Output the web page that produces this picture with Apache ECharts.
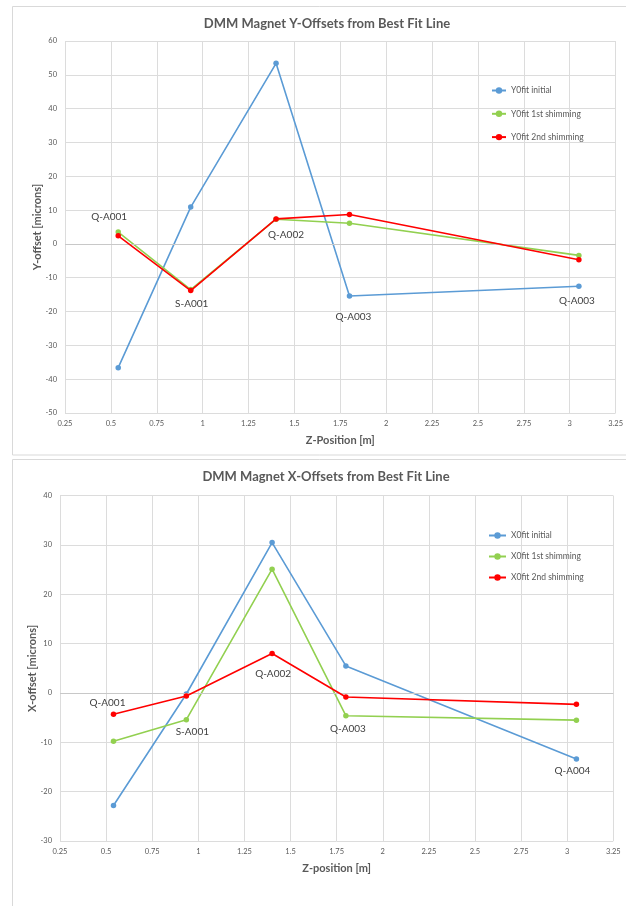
<!DOCTYPE html>
<html>
<head>
<meta charset="utf-8">
<script src="https://cdn.jsdelivr.net/npm/echarts@6/dist/echarts.min.js"></script>
<style>
html,body{margin:0;padding:0;background:#fff;}
#chart{width:626px;height:906px;}
</style>
</head>
<body>
<div id="chart"></div>
<script>
// ---- data ----
const zPositions = [0.54, 0.935, 1.40, 1.80, 3.05];

const yTitle = 'DMM Magnet Y-Offsets from Best Fit Line';
const ySeriesNames = ['Y0fit initial', 'Y0fit 1st shimming', 'Y0fit 2nd shimming'];
const yInitial = [-36.6, 10.9, 53.4, -15.4, -12.5];
const y1stShim = [3.5, -13.5, 7.3, 6.1, -3.4];
const y2ndShim = [2.4, -13.8, 7.4, 8.7, -4.7];
const yMagnetLabels = ['Q-A001', 'S-A001', 'Q-A002', 'Q-A003', 'Q-A003'];

const xTitle = 'DMM Magnet X-Offsets from Best Fit Line';
const xSeriesNames = ['X0fit initial', 'X0fit 1st shimming', 'X0fit 2nd shimming'];
const xInitial = [-22.8, -0.2, 30.5, 5.5, -13.4];
const x1stShim = [-9.8, -5.4, 25.1, -4.6, -5.5];
const x2ndShim = [-4.3, -0.6, 8.0, -0.8, -2.3];
const xMagnetLabels = ['Q-A001', 'S-A001', 'Q-A002', 'Q-A003', 'Q-A004'];

const zTicks = { min: 0.25, max: 3.25, interval: 0.25 };
const yOffsetTicks = { min: -50, max: 60, interval: 10 };
const xOffsetTicks = { min: -30, max: 40, interval: 10 };

// ---- layout / style ----
const COLORS = ['#5B9BD5', '#92D050', '#FF0000'];
const FONT = 'Lato, "Open Sans", sans-serif';

// which series carries each point label, and where (layout only)
const yLabelPlacement = [
  { series: 1, pos: 'top', offset: [-9, -4] },
  { series: 2, pos: 'bottom', offset: [1, 1] },
  { series: 2, pos: 'bottom', offset: [10, 4] },
  { series: 0, pos: 'bottom', offset: [4, 9] },
  { series: 0, pos: 'bottom', offset: [-2, 3] }
];
const xLabelPlacement = [
  { series: 2, pos: 'top', offset: [-6, 0] },
  { series: 1, pos: 'bottom', offset: [6, 0] },
  { series: 2, pos: 'bottom', offset: [1, 8] },
  { series: 1, pos: 'bottom', offset: [2, 1] },
  { series: 0, pos: 'bottom', offset: [-4, 0] }
];

function buildData(values, seriesIdx, names, placement) {
  return values.map((v, i) => {
    const p = placement[i];
    const item = { value: [zPositions[i], v] };
    if (p.series === seriesIdx) {
      item.label = {
        show: true, formatter: names[i], position: p.pos, offset: p.offset,
        color: '#404040', fontSize: 10, fontFamily: FONT, distance: 4
      };
    }
    return item;
  });
}

function makeSeries(names, valueSets, labels, placement, gridIdx) {
  return valueSets.map((vals, s) => ({
    name: names[s],
    type: 'line',
    xAxisIndex: gridIdx,
    yAxisIndex: gridIdx,
    data: buildData(vals, s, labels, placement),
    symbol: 'circle',
    symbolSize: 5.5,
    color: COLORS[s],
    lineStyle: { width: 1.6, color: COLORS[s] },
    itemStyle: { color: COLORS[s] },
    z: 3 + s,
    animation: false,
    markLine: s === 0 ? {
      silent: true, symbol: 'none', animation: false,
      label: { show: false },
      lineStyle: { color: '#c8c8c8', type: 'solid', width: 1 },
      data: [{ yAxis: 0 }]
    } : undefined
  }));
}

const axisLabelStyle = { color: '#595959', fontSize: 7.5, fontFamily: FONT };
const splitLineStyle = { show: true, lineStyle: { color: '#dcdcdc', width: 1 } };
const nameStyle = { color: '#595959', fontSize: 11, fontWeight: 'bold', fontFamily: FONT };

function xAxisCfg(gridIdx, name, gap) {
  return {
    type: 'value', gridIndex: gridIdx,
    min: zTicks.min, max: zTicks.max, interval: zTicks.interval,
    name: name, nameLocation: 'middle', nameGap: gap, nameTextStyle: nameStyle,
    nameMoveOverlap: false,
    axisLine: { show: false }, axisTick: { show: false },
    axisLabel: Object.assign({ margin: 7 }, axisLabelStyle),
    splitLine: splitLineStyle
  };
}
function yAxisCfg(gridIdx, ticks, name, gap) {
  return {
    type: 'value', gridIndex: gridIdx,
    min: ticks.min, max: ticks.max, interval: ticks.interval,
    name: name, nameLocation: 'middle', nameGap: gap, nameTextStyle: nameStyle,
    nameMoveOverlap: false,
    axisLine: { show: false }, axisTick: { show: false },
    axisLabel: Object.assign({ margin: 8 }, axisLabelStyle),
    splitLine: splitLineStyle
  };
}

const legendText = { color: '#595959', fontSize: 8.5, fontFamily: FONT, lineHeight: 10 };

const option = {
  backgroundColor: '#ffffff',
  animation: false,
  graphic: [
    { type: 'rect', shape: { x: 12.5, y: 6.5, width: 640, height: 448.5 },
      style: { fill: 'none', stroke: '#d9d9d9', lineWidth: 1 }, silent: true },
    { type: 'rect', shape: { x: 12.5, y: 459.5, width: 640, height: 470 },
      style: { fill: 'none', stroke: '#d9d9d9', lineWidth: 1 }, silent: true }
  ],
  title: [
    { text: yTitle, left: 322, top: 12, textAlign: 'center',
      textStyle: { color: '#595959', fontSize: 13, fontWeight: 'bold', fontFamily: FONT } },
    { text: xTitle, left: 321, top: 465, textAlign: 'center',
      textStyle: { color: '#595959', fontSize: 13, fontWeight: 'bold', fontFamily: FONT } }
  ],
  legend: [
    { data: ySeriesNames, orient: 'vertical', left: 486, top: 80.5,
      itemWidth: 14, itemHeight: 8, itemGap: 13.3, textStyle: legendText,
      selectedMode: false },
    { data: xSeriesNames, orient: 'vertical', left: 483, top: 525.5,
      itemWidth: 17, itemHeight: 8, itemGap: 11, textStyle: legendText,
      selectedMode: false }
  ],
  grid: [
    { left: 65, right: 9, top: 41, height: 372 },
    { left: 60, right: 12.7, top: 495.7, height: 345.3 }
  ],
  xAxis: [
    xAxisCfg(0, 'Z-Position [m]', 22),
    xAxisCfg(1, 'Z-position [m]', 22)
  ],
  yAxis: [
    yAxisCfg(0, yOffsetTicks, 'Y-offset [microns]', 22),
    yAxisCfg(1, xOffsetTicks, 'X-offset [microns]', 22)
  ],
  series: [].concat(
    makeSeries(ySeriesNames, [yInitial, y1stShim, y2ndShim], yMagnetLabels, yLabelPlacement, 0),
    makeSeries(xSeriesNames, [xInitial, x1stShim, x2ndShim], xMagnetLabels, xLabelPlacement, 1)
  )
};

const chart = echarts.init(document.getElementById('chart'), null, { renderer: 'canvas' });
chart.setOption(option);
</script>
</body>
</html>
